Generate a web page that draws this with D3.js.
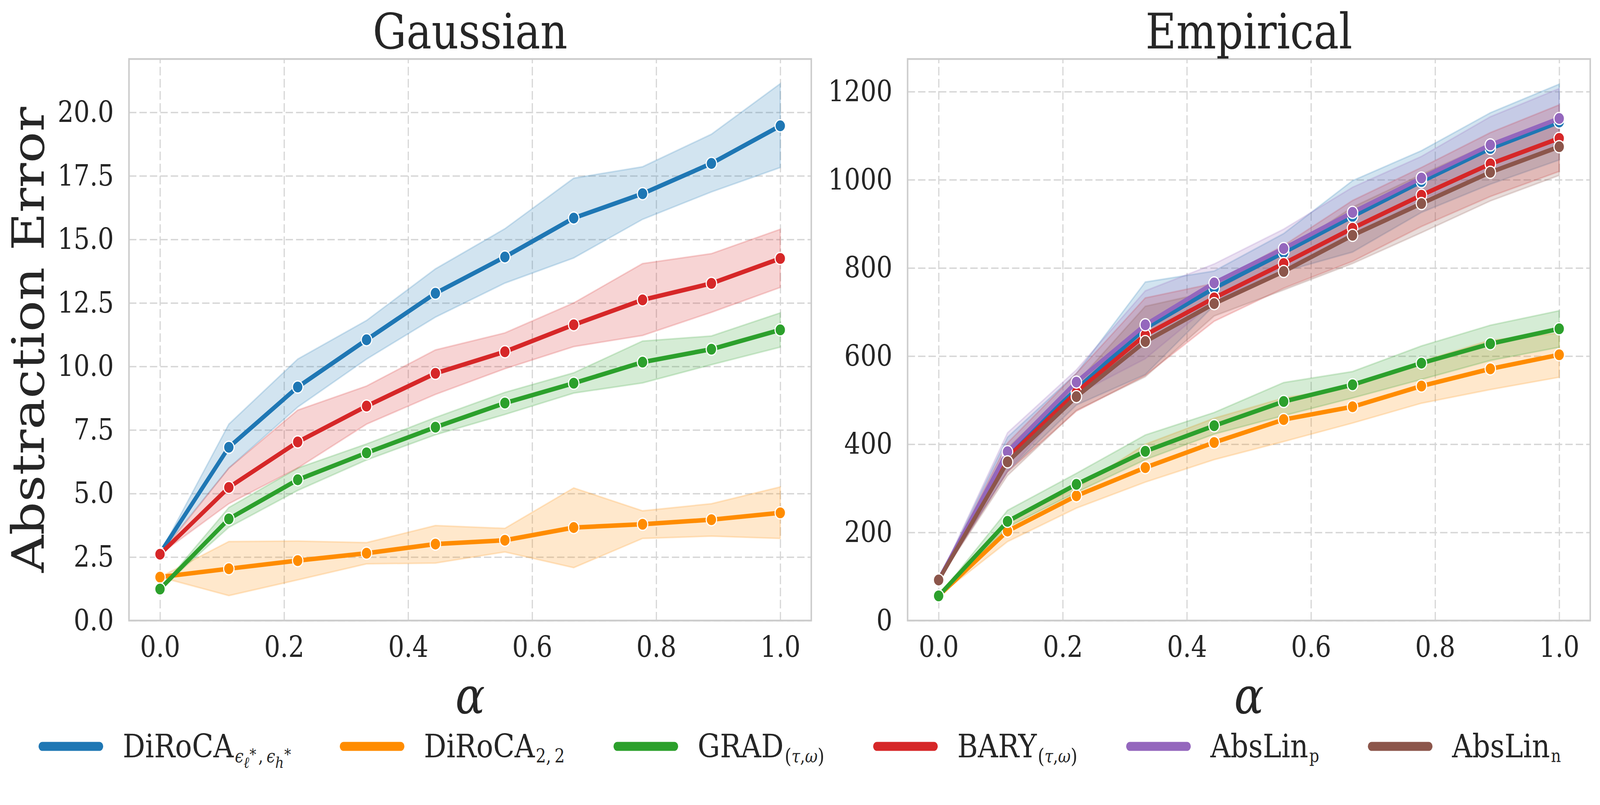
<!DOCTYPE html>
<html>
<head>
<meta charset="utf-8">
<script src="https://cdn.jsdelivr.net/npm/d3@7"></script>
<style>
  html, body { margin: 0; padding: 0; background: #fff; overflow: hidden; }
  text { font-family: "DejaVu Serif", serif; fill: #262626; }
</style>
</head>
<body>
<div id="container"></div>
<script>
// x values (alpha)
const alphas = [0, 0.111, 0.222, 0.333, 0.444, 0.556, 0.667, 0.778, 0.889, 1.0];
const xTicks = [0, 0.2, 0.4, 0.6, 0.8, 1.0];

const colors = ["#1f77b4", "#ff8c00", "#2ca02c", "#d62728", "#9467bd", "#8c564b"];

// Gaussian panel
const gYTicks = [0, 2.5, 5, 7.5, 10, 12.5, 15, 17.5, 20];
const gBlue     = [2.65, 6.82, 9.19, 11.05, 12.88, 14.31, 15.84, 16.80, 17.99, 19.47];
const gBlueLo   = [2.65, 6.00, 8.40, 10.29, 11.94, 13.28, 14.27, 15.79, 16.87, 17.83];
const gBlueHi   = [2.65, 7.73, 10.29, 11.81, 13.84, 15.42, 17.41, 17.86, 19.14, 21.13];
const gOrange   = [1.71, 2.04, 2.36, 2.65, 3.01, 3.16, 3.66, 3.79, 3.97, 4.24];
const gOrangeLo = [1.71, 0.98, 1.60, 2.23, 2.26, 2.70, 2.08, 3.23, 3.32, 3.23];
const gOrangeHi = [1.71, 3.11, 3.13, 3.07, 3.74, 3.63, 5.22, 4.32, 4.60, 5.26];
const gGreen    = [1.24, 4.00, 5.54, 6.60, 7.61, 8.56, 9.34, 10.17, 10.68, 11.44];
const gGreenLo  = [1.24, 3.67, 5.12, 6.32, 7.31, 8.11, 8.95, 9.35, 10.07, 10.76];
const gGreenHi  = [1.24, 4.45, 6.00, 6.95, 7.99, 8.98, 9.75, 11.00, 11.20, 12.11];
const gRed      = [2.61, 5.24, 7.03, 8.44, 9.73, 10.58, 11.64, 12.62, 13.27, 14.25];
const gRedLo    = [2.61, 4.60, 6.00, 7.73, 8.90, 9.91, 10.78, 11.22, 12.13, 13.11];
const gRedHi    = [2.61, 6.00, 8.28, 9.23, 10.65, 11.32, 12.50, 14.05, 14.44, 15.40];

// Empirical panel
const eYTicks = [0, 200, 400, 600, 800, 1000, 1200];
const eBlue     = [92, 377, 525, 663, 754, 835, 917, 996, 1071, 1131];
const eBlueLo   = [92, 338, 489, 558, 715, 792, 836, 926, 990, 1045];
const eBlueHi   = [92, 416, 561, 768, 793, 878, 998, 1066, 1152, 1217];
const eOrange   = [56, 203, 283, 347, 404, 456, 485, 532, 571, 603];
const eOrangeLo = [56, 179, 255, 314, 365, 406, 448, 493, 524, 552];
const eOrangeHi = [56, 228, 300, 400, 459, 505, 530, 588, 636, 652];
const eGreen    = [56, 225, 309, 384, 442, 497, 535, 584, 628, 662];
const eGreenLo  = [56, 212, 291, 365, 423, 465, 505, 547, 590, 620];
const eGreenHi  = [56, 250, 334, 421, 472, 540, 565, 623, 670, 703];
const eRed      = [92, 370, 518, 648, 732, 810, 890, 965, 1036, 1094];
const eRedLo    = [92, 337, 475, 556, 679, 754, 815, 894, 962, 1019];
const eRedHi    = [92, 403, 561, 732, 765, 851, 953, 1028, 1107, 1170];
const ePurple   = [92, 383, 541, 671, 766, 844, 926, 1004, 1079, 1139];
const ePurpleLo = [92, 339, 513, 594, 723, 801, 869, 956, 1015, 1071];
const ePurpleHi = [92, 426, 569, 748, 809, 888, 983, 1053, 1143, 1207];
const eBrown    = [92, 360, 508, 633, 719, 792, 874, 946, 1017, 1075];
const eBrownLo  = [92, 329, 477, 553, 691, 750, 810, 880, 952, 1010];
const eBrownHi  = [92, 391, 539, 713, 748, 835, 938, 1012, 1082, 1140];

// legend labels: pieces of [text, size, italic, baseline offset, dx]
const legendLabels = [
  [["DiRoCA"], ["\u03f5", 46, 1, 13, 4], ["\u2113", 40, 1, 27], ["*", 40, 0, 6, 1], [",", 46, 0, 13, 6], ["\u03f5", 46, 1, 13, 10], ["h", 40, 1, 27], ["*", 40, 0, 6, 1]],
  [["DiRoCA"], ["2,", 48, 0, 13, 3], ["2", 48, 0, 13, 10]],
  [["GRAD"], ["(", 52, 0, 15, 3], ["\u03c4", 46, 1, 13], [",", 46, 0, 13], ["\u03c9", 46, 1, 13], [")", 52, 0, 15]],
  [["BARY"], ["(", 52, 0, 15, 3], ["\u03c4", 46, 1, 13], [",", 46, 0, 13], ["\u03c9", 46, 1, 13], [")", 52, 0, 15]],
  [["AbsLin"], ["p", 46, 0, 12, 3]],
  [["AbsLin"], ["n", 46, 0, 12, 3]]
];

const gaussSeries = [
  {color: colors[0], mean: gBlue, lo: gBlueLo, hi: gBlueHi},
  {color: colors[1], mean: gOrange, lo: gOrangeLo, hi: gOrangeHi},
  {color: colors[2], mean: gGreen, lo: gGreenLo, hi: gGreenHi},
  {color: colors[3], mean: gRed, lo: gRedLo, hi: gRedHi}
];
const empSeries = [
  {color: colors[0], mean: eBlue, lo: eBlueLo, hi: eBlueHi},
  {color: colors[1], mean: eOrange, lo: eOrangeLo, hi: eOrangeHi},
  {color: colors[2], mean: eGreen, lo: eGreenLo, hi: eGreenHi},
  {color: colors[3], mean: eRed, lo: eRedLo, hi: eRedHi},
  {color: colors[4], mean: ePurple, lo: ePurpleLo, hi: ePurpleHi},
  {color: colors[5], mean: eBrown, lo: eBrownLo, hi: eBrownHi}
];

const W = 4751, H = 2060;
const plotTop = 151, plotBottom = 1588;

// drawing is laid out on a 4751x2060 canvas and stretched to the window
const svg = d3.select("#container").append("svg")
  .attr("viewBox", `0 0 ${W} ${H}`)
  .attr("preserveAspectRatio", "none")
  .style("width", "100vw").style("height", "100vh")
  .style("display", "block");

svg.append("rect").attr("width", W).attr("height", H).attr("fill", "#fff");

function drawPanel(x0, x1, yMax, yTicks, fmt, series, title) {
  const g = svg.append("g");
  const xScale = d3.scaleLinear().domain([-0.05, 1.05]).range([x0, x1]);
  const yScale = d3.scaleLinear().domain([0, yMax]).range([plotBottom, plotTop]);
  const idx = d3.range(alphas.length);

  // grid
  g.append("g")
    .attr("transform", `translate(0,${plotBottom})`)
    .call(d3.axisBottom(xScale).tickValues(xTicks).tickSize(-(plotBottom - plotTop)).tickFormat(""))
    .call(a => a.select(".domain").remove())
    .selectAll("line")
    .attr("stroke", "#d6d6d6").attr("stroke-width", 3.5).attr("stroke-dasharray", "22,9");
  g.append("g")
    .attr("transform", `translate(${x0},0)`)
    .call(d3.axisLeft(yScale).tickValues(yTicks).tickSize(-(x1 - x0)).tickFormat(""))
    .call(a => a.select(".domain").remove())
    .selectAll("line")
    .attr("stroke", "#d6d6d6").attr("stroke-width", 3.5).attr("stroke-dasharray", "22,9");

  // tick labels
  const xa = g.append("g")
    .attr("transform", `translate(0,${plotBottom})`)
    .call(d3.axisBottom(xScale).tickValues(xTicks).tickSize(0).tickPadding(40).tickFormat(d3.format(".1f")));
  xa.select(".domain").remove();
  xa.selectAll("text").style("font-size", "75px").style("font-family", "DejaVu Serif").attr("fill", "#262626");

  const ya = g.append("g")
    .attr("transform", `translate(${x0},0)`)
    .call(d3.axisLeft(yScale).tickValues(yTicks).tickSize(0).tickPadding(45).tickFormat(fmt));
  ya.select(".domain").remove();
  ya.selectAll("text").style("font-size", "75px").style("font-family", "DejaVu Serif").attr("fill", "#262626");

  // error bands
  series.forEach(s => {
    const area = d3.area()
      .x(i => xScale(alphas[i]))
      .y0(i => yScale(s.lo[i]))
      .y1(i => yScale(s.hi[i]));
    g.append("path").datum(idx)
      .attr("d", area)
      .attr("fill", s.color).attr("fill-opacity", 0.2)
      .attr("stroke", s.color).attr("stroke-opacity", 0.2).attr("stroke-width", 4);
  });

  // lines + markers
  series.forEach(s => {
    const line = d3.line()
      .x(i => xScale(alphas[i]))
      .y(i => yScale(s.mean[i]));
    g.append("path").datum(idx)
      .attr("d", line)
      .attr("fill", "none").attr("stroke", s.color)
      .attr("stroke-width", 11.5).attr("stroke-linejoin", "round");
    g.selectAll(null).data(idx).enter().append("circle")
      .attr("cx", i => xScale(alphas[i]))
      .attr("cy", i => yScale(s.mean[i]))
      .attr("r", 15.5)
      .attr("fill", s.color)
      .attr("stroke", "#fff").attr("stroke-width", 3.2);
  });

  // spines
  g.append("rect")
    .attr("x", x0).attr("y", plotTop)
    .attr("width", x1 - x0).attr("height", plotBottom - plotTop)
    .attr("fill", "none").attr("stroke", "#cccccc").attr("stroke-width", 4.5);

  // title and x label
  g.append("text")
    .attr("x", (x0 + x1) / 2).attr("y", 124)
    .attr("text-anchor", "middle")
    .style("font-size", "125px")
    .text(title);
  g.append("text")
    .attr("x", (x0 + x1) / 2).attr("y", 1825)
    .attr("text-anchor", "middle")
    .style("font-size", "130px").style("font-style", "italic")
    .text("\u03b1");
}

drawPanel(383, 2409, 22.1, gYTicks, d3.format(".1f"), gaussSeries, "Gaussian");
drawPanel(2695, 4722, 1274, eYTicks, d3.format("d"), empSeries, "Empirical");

// y label
svg.append("text")
  .attr("transform", `translate(130,${(plotTop + plotBottom) / 2}) rotate(-90)`)
  .attr("text-anchor", "middle")
  .style("font-size", "133px")
  .text("Abstraction Error");

// legend
const legY = 1910, textBase = 1938;
const lineW = 23, handleLen = 192, textOff = 250, colGap = 156;
const leg = svg.append("g");
const items = legendLabels.map((pieces, k) => {
  const it = leg.append("g");
  it.append("line")
    .attr("x1", lineW / 2).attr("x2", handleLen - lineW / 2)
    .attr("y1", legY).attr("y2", legY)
    .attr("stroke", colors[k]).attr("stroke-width", lineW).attr("stroke-linecap", "round");
  const t = it.append("text").attr("x", textOff).attr("y", textBase)
    .style("font-size", "83px");
  pieces.forEach(p => {
    const ts = t.append("tspan").text(p[0]);
    if (p.length > 1) {
      ts.style("font-size", p[1] + "px").attr("y", textBase + p[3]);
      if (p[2]) ts.style("font-style", "italic");
      if (p[4]) ts.attr("dx", p[4]);
    } else {
      ts.attr("y", textBase);
    }
  });
  return it;
});
const widths = items.map(it => it.node().getBBox().width);
const total = d3.sum(widths) + colGap * (widths.length - 1);
let cx = 2369 - total / 2;
items.forEach((it, k) => {
  it.attr("transform", `translate(${cx},0)`);
  cx += widths[k] + colGap;
});
</script>
</body>
</html>
